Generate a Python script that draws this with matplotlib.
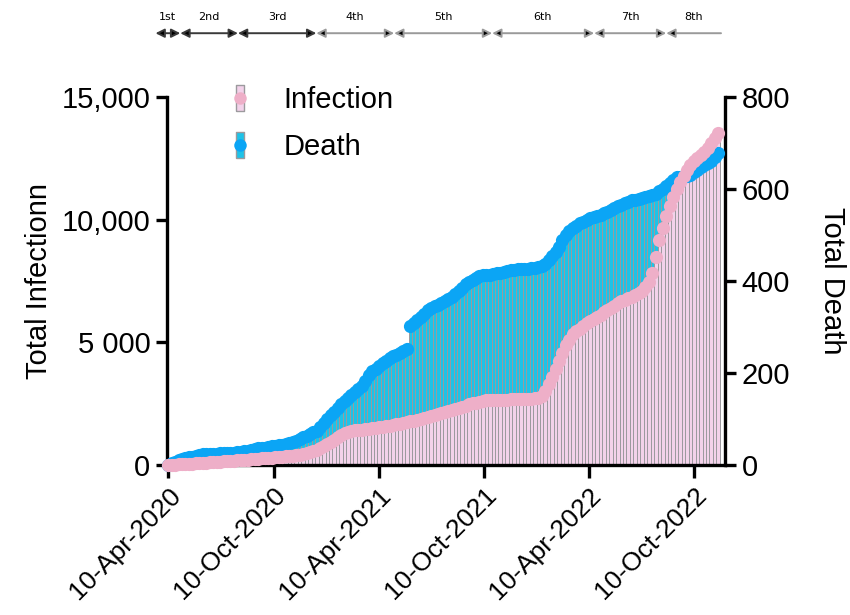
import datetime as dt
import matplotlib
matplotlib.use("Agg")
import matplotlib.pyplot as plt
from matplotlib.lines import Line2D
from matplotlib.legend_handler import HandlerTuple

plt.rcParams['font.family'] = ['Liberation Sans', 'DejaVu Sans']

# ---------------- data ----------------
start_date = dt.date(2020, 4, 10)
step_days = 6
infection = [0, 9, 17, 26, 34, 43, 52, 60, 69, 77,
             86, 95, 103, 112, 120, 131, 143, 154, 165, 177,
             188, 199, 211, 222, 233, 245, 256, 267, 278, 290,
             303, 316, 329, 341, 354, 367, 380, 393, 406, 443,
             484, 525, 567, 607, 684, 764, 842, 923, 1011, 1125,
             1239, 1320, 1361, 1392, 1410, 1427, 1444, 1461, 1478, 1495,
             1512, 1529, 1547, 1573, 1603, 1632, 1661, 1690, 1719, 1748,
             1776, 1805, 1834, 1873, 1912, 1950, 1989, 2027, 2066, 2104,
             2142, 2181, 2224, 2274, 2323, 2372, 2422, 2471, 2509, 2543,
             2576, 2610, 2644, 2652, 2655, 2658, 2661, 2664, 2668, 2672,
             2676, 2680, 2685, 2690, 2696, 2704, 2716, 2726, 2824, 3022,
             3282, 3605, 3925, 4246, 4579, 4875, 5108, 5330, 5442, 5551,
             5663, 5772, 5865, 5954, 6041, 6130, 6217, 6310, 6402, 6491,
             6583, 6665, 6730, 6794, 6860, 6937, 7020, 7106, 7254, 7439,
             7812, 8467, 9151, 9662, 10148, 10568, 10929, 11232, 11524, 11778,
             12027, 12213, 12374, 12510, 12635, 12773, 12932, 13110, 13318, 13532]
death = [0, 4, 7, 11, 14, 15, 17, 18, 20, 22,
         23, 23, 24, 25, 25, 26, 26, 27, 27, 27,
         28, 28, 30, 31, 32, 34, 36, 37, 38, 40,
         41, 42, 43, 44, 46, 48, 50, 53, 57, 61,
         64, 67, 71, 74, 82, 91, 100, 108, 116, 124,
         132, 140, 146, 152, 159, 165, 172, 182, 195, 204,
         209, 215, 221, 226, 232, 236, 239, 243, 247, 252,
         302, 308, 315, 322, 329, 336, 342, 345, 348, 352,
         356, 361, 366, 371, 378, 385, 393, 398, 402, 406,
         410, 412, 413, 414, 416, 417, 418, 419, 421, 423,
         424, 425, 426, 427, 427, 428, 429, 430, 432, 438,
         445, 454, 464, 474, 490, 499, 509, 515, 520, 525,
         529, 532, 536, 539, 542, 544, 547, 550, 554, 558,
         562, 566, 569, 572, 575, 577, 579, 580, 582, 584,
         587, 590, 595, 601, 607, 613, 619, 625, 627, 628,
         629, 631, 636, 641, 647, 652, 656, 661, 670, 678]
dates = [start_date + dt.timedelta(days=step_days * i) for i in range(len(infection))]

xtick_dates = [dt.date(2020, 4, 10), dt.date(2020, 10, 10), dt.date(2021, 4, 10),
               dt.date(2021, 10, 10), dt.date(2022, 4, 10), dt.date(2022, 10, 10)]
xtick_labels = ['10-Apr-2020', '10-Oct-2020', '10-Apr-2021',
                '10-Oct-2021', '10-Apr-2022', '10-Oct-2022']
left_ticks = [0, 5000, 10000, 15000]
left_labels = ['0', '5 000', '10,000', '15,000']
right_ticks = [0, 200, 400, 600, 800]
right_labels = ['0', '200', '400', '600', '800']

wave_labels = ['1st', '2nd', '3rd', '4th', '5th', '6th', '7th', '8th']
wave_bounds = [dt.date(2020, 3, 19), dt.date(2020, 5, 1), dt.date(2020, 8, 9),
               dt.date(2020, 12, 23), dt.date(2021, 5, 7), dt.date(2021, 10, 24),
               dt.date(2022, 4, 19), dt.date(2022, 8, 22), dt.date(2022, 11, 25)]

# ---------------- style ----------------
pink_bar = '#F3D2EA'
pink_dot = '#EEAFC8'
cyan_bar = '#1EC3E8'
blue_dot = '#0BA5F5'
bar_edge = '#9C9A9E'

fig = plt.figure(figsize=(8.5, 6.15), dpi=100)
ax = fig.add_axes([0.1965, 0.2439, 0.6565, 0.5984])
ax2 = ax.twinx()
ax.set_zorder(ax2.get_zorder() + 1)
ax.patch.set_visible(False)

# death bars (bottom layer)
ax2.bar(dates, death, width=step_days, color=cyan_bar, edgecolor=bar_edge,
        linewidth=0.7, align='center')
# infection bars
ax.bar(dates, infection, width=step_days, color=pink_bar, edgecolor=bar_edge,
       linewidth=0.7, align='center', zorder=1)
# death markers (on death scale)
ax.plot(dates, death, 'o', color=blue_dot, ms=9.5, mew=0,
        transform=ax2.transData, zorder=3, clip_on=False)
# infection markers
ax.plot(dates, infection, 'o', color=pink_dot, ms=9.5, mew=0, zorder=4, clip_on=False)

ax.set_xlim(start_date - dt.timedelta(days=2), start_date + dt.timedelta(days=966))
ax.set_ylim(0, 15000)
ax2.set_ylim(0, 800)

ax.set_xticks(xtick_dates)
ax.set_xticklabels(xtick_labels, rotation=45, ha='right', rotation_mode='anchor')
ax.set_yticks(left_ticks)
ax.set_yticklabels(left_labels)
ax2.set_yticks(right_ticks)
ax2.set_yticklabels(right_labels)

for a in (ax, ax2):
    a.spines['top'].set_visible(False)
    for s in ('left', 'right', 'bottom'):
        a.spines[s].set_linewidth(2.4)
    a.tick_params(width=2.4, length=8, labelsize=21, pad=4)
ax.spines['right'].set_visible(False)
ax2.spines['left'].set_visible(False)
ax2.spines['bottom'].set_visible(False)
ax.tick_params(axis='x', length=9, pad=4, labelsize=19)

ax.set_ylabel('Total Infectionn', fontsize=21, labelpad=6)
ax2.set_ylabel('Total Death', fontsize=21, rotation=-90, labelpad=40)

# legend
rect_marker = [(-0.3, -1), (0.3, -1), (0.3, 1), (-0.3, 1), (-0.3, -1)]
h_inf = (Line2D([], [], ls='', marker=rect_marker, ms=19, mfc=pink_bar, mec=bar_edge, mew=1),
         Line2D([], [], ls='', marker='o', ms=9, color=pink_dot, mew=0))
h_dea = (Line2D([], [], ls='', marker=rect_marker, ms=19, mfc=cyan_bar, mec=bar_edge, mew=1),
         Line2D([], [], ls='', marker='o', ms=9, color=blue_dot, mew=0))
ax.legend([h_inf, h_dea], ['Infection', 'Death'],
          handler_map={tuple: HandlerTuple(ndivide=1)},
          loc='upper left', bbox_to_anchor=(0.057, 1.10), frameon=False,
          fontsize=21, handlelength=1.0, handletextpad=1.0, labelspacing=0.65)

# wave annotations on top
y_line = 0.946
y_text = 0.972
for k, lab in enumerate(wave_labels):
    d1, d2 = wave_bounds[k], wave_bounds[k + 1]
    col = '#3a3a3a' if k < 3 else '#9a9a9a'
    style = '<|-|>' if k < len(wave_labels) - 1 else '<|-'
    ax.annotate('', xy=(d2, y_line), xytext=(d1, y_line),
                xycoords=('data', 'figure fraction'), textcoords=('data', 'figure fraction'),
                arrowprops=dict(arrowstyle=style, lw=1.4, mutation_scale=13,
                                shrinkA=0, shrinkB=0, fc='black', ec=col),
                annotation_clip=False)
    mid = d1 + (d2 - d1) / 2
    ax.annotate(lab, xy=(mid, y_text), xycoords=('data', 'figure fraction'),
                ha='center', va='center', fontsize=8, family='DejaVu Sans',
                annotation_clip=False)

fig.savefig('out.png', dpi=100)
